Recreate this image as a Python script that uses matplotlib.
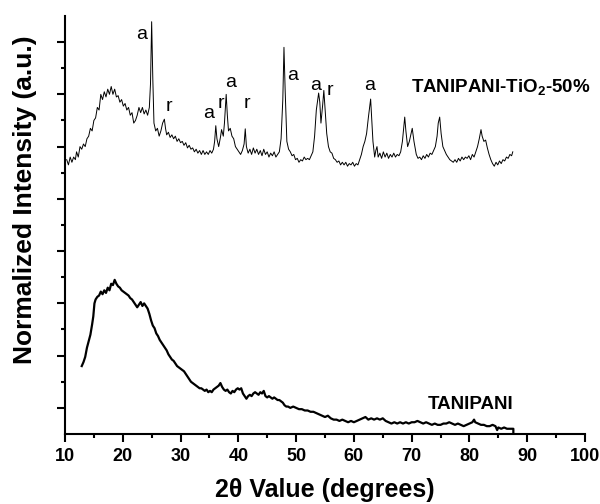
import matplotlib
matplotlib.use("Agg")
import matplotlib.pyplot as plt
import numpy as np
from matplotlib.ticker import FixedLocator, NullFormatter

plt.rcParams['font.family'] = ['Liberation Sans', 'DejaVu Sans']
plt.rcParams['mathtext.fontset'] = 'custom'
plt.rcParams['mathtext.rm'] = 'Liberation Sans'
plt.rcParams['mathtext.bf'] = 'Liberation Sans:bold'

# TANIPANI-TiO2-50% pattern (offset upwards)
tio2_x = [10.3, 10.6, 10.9, 11.2, 11.5, 11.8, 12.0, 12.3, 12.6, 12.9,
          13.2, 13.5, 13.8, 14.1, 14.4, 14.7, 15.0, 15.3, 15.6, 15.9,
          16.2, 16.5, 16.8, 17.1, 17.4, 17.7, 18.0, 18.3, 18.6, 18.9,
          19.2, 19.5, 19.8, 20.1, 20.4, 20.7, 21.0, 21.3, 21.6, 21.9,
          22.2, 22.5, 22.8, 23.1, 23.4, 23.7, 24.0, 24.3, 24.6, 24.8,
          25.0, 25.2, 25.4, 25.7, 26.0, 26.3, 26.6, 26.9, 27.2, 27.4,
          27.6, 27.9, 28.2, 28.5, 28.8, 29.1, 29.4, 29.7, 30.0, 30.3,
          30.6, 30.9, 31.2, 31.5, 31.8, 32.1, 32.4, 32.7, 33.0, 33.3,
          33.6, 33.9, 34.2, 34.5, 34.8, 35.1, 35.4, 35.7, 35.9, 36.1,
          36.3, 36.6, 36.9, 37.1, 37.4, 37.6, 37.9, 38.1, 38.3, 38.6,
          38.9, 39.2, 39.5, 39.8, 40.1, 40.4, 40.7, 41.0, 41.2, 41.4,
          41.7, 42.0, 42.3, 42.6, 42.9, 43.2, 43.5, 43.8, 44.1, 44.4,
          44.7, 45.0, 45.3, 45.6, 45.9, 46.2, 46.5, 46.8, 47.1, 47.4,
          47.7, 47.9, 48.1, 48.4, 48.7, 49.0, 49.3, 49.6, 49.9, 50.2,
          50.5, 50.8, 51.1, 51.4, 51.7, 52.0, 52.3, 52.6, 52.9, 53.2,
          53.5, 53.9, 54.1, 54.3, 54.6, 54.8, 55.0, 55.3, 55.6, 55.9,
          56.2, 56.5, 56.8, 57.1, 57.4, 57.7, 58.0, 58.3, 58.6, 58.9,
          59.2, 59.5, 59.8, 60.1, 60.4, 60.7, 61.0, 61.3, 61.6, 61.9,
          62.2, 62.5, 62.9, 63.1, 63.3, 63.6, 63.8, 64.0, 64.2, 64.5,
          64.8, 65.1, 65.4, 65.7, 66.0, 66.3, 66.6, 66.9, 67.2, 67.5,
          67.8, 68.1, 68.4, 68.8, 69.0, 69.3, 69.6, 69.9, 70.1, 70.4,
          70.8, 71.1, 71.4, 71.7, 72.0, 72.3, 72.6, 72.9, 73.2, 73.5,
          73.8, 74.1, 74.4, 74.6, 74.85, 75.1, 75.4, 75.7, 76.0, 76.3,
          76.6, 76.9, 77.2, 77.5, 77.8, 78.1, 78.4, 78.7, 79.0, 79.3,
          79.6, 79.9, 80.2, 80.5, 80.8, 81.1, 81.4, 81.7, 82.0, 82.2,
          82.5, 82.8, 83.1, 83.4, 83.7, 84.0, 84.3, 84.6, 84.9, 85.2,
          85.5, 85.8, 86.1, 86.4, 86.7, 87.0, 87.3, 87.5]
tio2_y = [10.5, 10.3, 10.6, 10.4, 10.6, 10.5, 10.8, 10.6, 11.0, 10.9,
          11.1, 11.0, 11.3, 11.4, 11.7, 11.6, 12.0, 12.1, 12.5, 12.4,
          13.0, 12.8, 13.1, 12.9, 13.2, 13.0, 13.3, 13.0, 13.2, 12.9,
          12.95, 12.7, 12.8, 12.55, 12.65, 12.4, 12.5, 12.2, 12.3, 11.9,
          12.0, 12.2, 12.5, 12.3, 12.5, 12.25, 12.4, 12.2, 12.5, 13.4,
          15.78, 13.6, 11.9, 11.6, 11.7, 11.4, 11.6, 11.9, 12.05, 11.7,
          11.45, 11.55, 11.35, 11.45, 11.3, 11.4, 11.2, 11.3, 11.15, 11.2,
          11.05, 11.15, 10.95, 11.05, 10.9, 10.95, 10.8, 10.9, 10.75, 10.85,
          10.7, 10.85, 10.7, 10.8, 10.7, 10.85, 10.75, 10.9, 11.2, 11.8,
          11.3, 11.0, 11.35, 11.65, 11.4, 11.9, 13.0, 12.2, 11.6, 11.7,
          11.4, 11.3, 11.0, 10.9, 10.8, 10.7, 10.85, 11.1, 11.68, 11.0,
          10.75, 10.9, 10.7, 10.95, 10.75, 10.9, 10.7, 10.85, 10.65, 10.9,
          10.7, 10.8, 10.6, 10.75, 10.65, 10.8, 10.6, 10.7, 10.8, 11.3,
          12.8, 14.8, 13.2, 11.2, 10.9, 10.8, 10.65, 10.7, 10.5, 10.55,
          10.4, 10.5, 10.45, 10.6, 10.5, 10.55, 10.5, 10.65, 10.8, 11.4,
          12.4, 13.05, 12.7, 11.9, 12.6, 13.15, 12.5, 11.5, 11.0, 10.8,
          10.75, 10.55, 10.5, 10.4, 10.45, 10.3, 10.4, 10.3, 10.4, 10.25,
          10.35, 10.3, 10.4, 10.25, 10.35, 10.3, 10.5, 10.7, 11.0, 11.2,
          11.5, 12.1, 12.82, 12.0, 11.2, 10.6, 10.85, 11.0, 10.6, 10.75,
          10.55, 10.8, 10.6, 10.75, 10.55, 10.7, 10.6, 10.75, 10.6, 10.7,
          10.65, 10.8, 11.2, 12.13, 11.6, 11.0, 11.2, 11.5, 11.7, 11.2,
          10.7, 10.55, 10.6, 10.5, 10.65, 10.55, 10.7, 10.6, 10.75, 10.7,
          10.85, 11.0, 11.4, 11.9, 12.13, 11.5, 11.0, 10.85, 10.7, 10.6,
          10.5, 10.45, 10.4, 10.5, 10.4, 10.55, 10.45, 10.6, 10.5, 10.6,
          10.55, 10.65, 10.5, 10.7, 10.6, 10.8, 11.0, 11.3, 11.65, 11.4,
          11.2, 11.25, 10.95, 10.7, 10.5, 10.35, 10.25, 10.4, 10.3, 10.45,
          10.35, 10.5, 10.45, 10.6, 10.55, 10.7, 10.65, 10.8]

# TANIPANI pattern
pani_x = [12.9, 13.2, 13.5, 13.8, 14.1, 14.4, 14.7, 14.9, 15.1, 15.3,
          15.6, 15.9, 16.2, 16.5, 16.8, 17.1, 17.4, 17.7, 18.0, 18.3,
          18.6, 18.9, 19.2, 19.5, 19.8, 20.1, 20.4, 20.7, 21.0, 21.3,
          21.6, 21.9, 22.2, 22.5, 22.8, 23.1, 23.4, 23.7, 24.0, 24.3,
          24.6, 24.9, 25.2, 25.5, 25.8, 26.1, 26.4, 26.7, 27.0, 27.3,
          27.6, 27.9, 28.2, 28.5, 28.8, 29.1, 29.4, 29.7, 30.0, 30.3,
          30.6, 30.9, 31.2, 31.5, 31.8, 32.1, 32.4, 32.7, 33.0, 33.3,
          33.6, 33.9, 34.2, 34.5, 34.8, 35.1, 35.4, 35.7, 36.0, 36.3,
          36.6, 36.9, 37.2, 37.5, 37.8, 38.1, 38.4, 38.7, 39.0, 39.3,
          39.6, 39.9, 40.2, 40.5, 40.8, 41.1, 41.4, 41.7, 42.0, 42.3,
          42.6, 42.9, 43.2, 43.5, 43.8, 44.1, 44.4, 44.7, 45.0, 45.3,
          45.6, 45.9, 46.2, 46.5, 46.8, 47.1, 47.4, 47.7, 48.0, 48.3,
          48.6, 49.0, 49.5, 50.0, 50.5, 51.0, 51.5, 52.0, 52.5, 53.0,
          53.5, 54.0, 54.5, 55.0, 55.5, 56.0, 56.5, 57.0, 57.5, 58.0,
          58.5, 59.0, 59.5, 60.0, 60.5, 61.0, 61.5, 62.0, 62.5, 63.0,
          63.5, 64.0, 64.5, 65.0, 65.5, 66.0, 66.5, 67.0, 67.5, 68.0,
          68.5, 69.0, 69.5, 70.0, 70.5, 71.0, 71.5, 72.0, 72.5, 73.0,
          73.5, 74.0, 74.5, 75.0, 75.5, 76.0, 76.5, 77.0, 77.5, 78.0,
          78.5, 79.0, 79.5, 80.0, 80.5, 80.8, 81.0, 81.5, 82.0, 82.5,
          83.0, 83.5, 84.0, 84.5, 84.8, 85.0, 85.5, 86.0, 86.5, 87.0,
          87.6, 87.6]
pani_y = [2.6, 2.75, 2.95, 3.3, 3.55, 3.8, 4.2, 4.5, 5.0, 5.15,
          5.25, 5.3, 5.45, 5.35, 5.5, 5.4, 5.6, 5.5, 5.75, 5.7,
          5.9, 5.75, 5.65, 5.6, 5.5, 5.45, 5.4, 5.35, 5.3, 5.2,
          5.15, 5.05, 4.95, 4.85, 4.95, 5.05, 4.9, 5.0, 4.9, 4.8,
          4.6, 4.35, 4.15, 4.05, 3.85, 3.75, 3.6, 3.5, 3.4, 3.3,
          3.2, 3.05, 2.95, 2.85, 2.8, 2.7, 2.6, 2.55, 2.5, 2.45,
          2.4, 2.3, 2.2, 2.1, 2.0, 1.95, 1.9, 1.85, 1.8, 1.75,
          1.75, 1.7, 1.65, 1.7, 1.6, 1.65, 1.6, 1.7, 1.75, 1.8,
          1.85, 1.95, 1.8, 1.7, 1.65, 1.7, 1.6, 1.55, 1.65, 1.6,
          1.7, 1.75, 1.7, 1.75, 1.55, 1.45, 1.35, 1.45, 1.5, 1.45,
          1.55, 1.6, 1.55, 1.5, 1.6, 1.55, 1.65, 1.45, 1.4, 1.45,
          1.4, 1.35, 1.4, 1.35, 1.3, 1.3, 1.25, 1.2, 1.1, 1.05,
          1.05, 1.0, 1.05, 1.0, 0.95, 0.95, 0.9, 0.9, 0.85, 0.85,
          0.8, 0.75, 0.7, 0.65, 0.7, 0.6, 0.55, 0.55, 0.5, 0.55,
          0.5, 0.45, 0.5, 0.45, 0.5, 0.55, 0.6, 0.65, 0.55, 0.6,
          0.55, 0.6, 0.55, 0.6, 0.5, 0.45, 0.4, 0.45, 0.4, 0.45,
          0.4, 0.45, 0.4, 0.45, 0.45, 0.5, 0.45, 0.4, 0.45, 0.4,
          0.35, 0.4, 0.35, 0.35, 0.4, 0.4, 0.45, 0.4, 0.35, 0.4,
          0.35, 0.3, 0.35, 0.4, 0.45, 0.55, 0.45, 0.4, 0.35, 0.35,
          0.3, 0.3, 0.35, 0.3, 0.15, 0.25, 0.2, 0.25, 0.2, 0.2,
          0.2, 0.05]

# anatase (a) / rutile (r) peak labels
peak_text = ['a', 'r', 'a', 'r', 'a', 'r', 'a', 'a', 'r', 'a']
peak_pos = [23.3, 28.0, 34.8, 36.96, 38.6, 41.5, 49.36, 53.35, 55.83, 62.77]
peak_lab_y = [15.12, 12.35, 12.1, 12.48, 13.28, 12.48, 13.56, 13.15, 12.99, 13.15]

fig = plt.figure(figsize=(6, 5.04), dpi=100)
ax = fig.add_axes([0.1083, 0.1389, 0.8667, 0.8294])

ax.plot(tio2_x, tio2_y, color='black', lw=0.7)
ax.plot(pani_x, pani_y, color='black', lw=1.6)

for t, px, py in zip(peak_text, peak_pos, peak_lab_y):
    ax.text(px, py, t, ha='center', va='baseline', fontsize=14)

ax.text(69.8, 13.07, 'TANIPANI-TiO$_\\mathbf{2}$-50%', fontsize=13.5,
        fontweight='bold', ha='left', va='baseline')
ax.text(72.8, 0.96, 'TANIPANI', fontsize=13.5, fontweight='bold',
        ha='left', va='baseline')

ax.set_xlim(10, 100)
ax.set_ylim(0, 16)
ax.set_xticks(np.arange(10, 101, 10))
ax.xaxis.set_minor_locator(FixedLocator(np.arange(15, 100, 10)))
ax.yaxis.set_major_locator(FixedLocator(np.arange(1, 16, 2)))
ax.yaxis.set_minor_locator(FixedLocator(np.arange(2, 15, 2)))
ax.yaxis.set_major_formatter(NullFormatter())

for s in ['top', 'right']:
    ax.spines[s].set_visible(False)
for s in ['left', 'bottom']:
    ax.spines[s].set_linewidth(1.5)
ax.tick_params(which='major', direction='out', length=6, width=1.5, pad=4)
ax.tick_params(which='minor', direction='out', length=3, width=1.5)
for lab in ax.get_xticklabels():
    lab.set_fontweight('bold')
    lab.set_fontsize(13)

fig.text(325 / 600, 0.004, '2θ Value (degrees)', fontsize=18,
         fontweight='bold', ha='center', va='bottom')
fig.text(25 / 600, 1 - 200 / 504, 'Normalized Intensity (a.u.)', fontsize=19,
         fontweight='bold', ha='center', va='center', rotation=90)

fig.savefig('out.png', dpi=100)
